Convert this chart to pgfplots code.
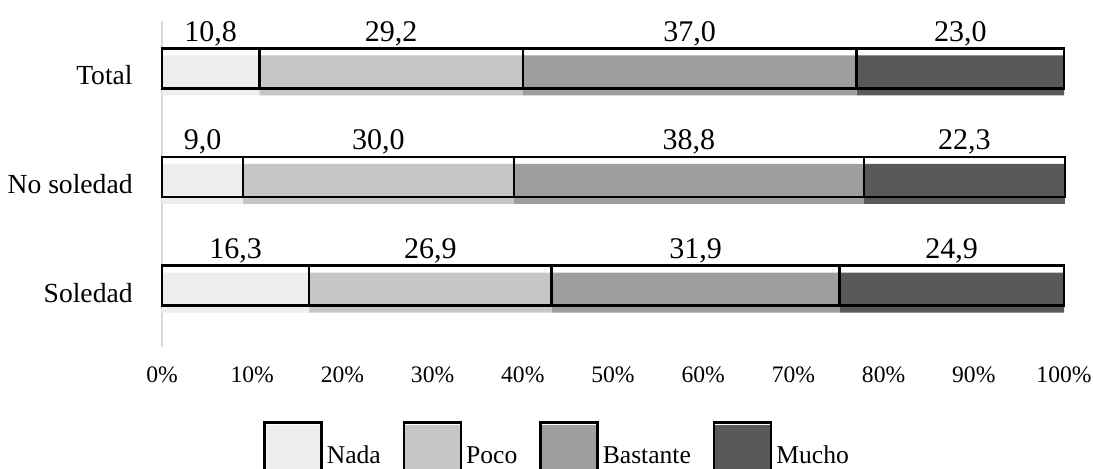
\documentclass[border=0pt]{standalone}
\usepackage{fontspec}
\setmainfont{Liberation Serif}
\usepackage{pgfplots}
\usepackage{pgfplotstable}
\pgfplotsset{compat=1.18}
\definecolor{cNada}{RGB}{237,237,237}
\definecolor{cPoco}{RGB}{198,198,198}
\definecolor{cBast}{RGB}{158,158,158}
\definecolor{cMucho}{RGB}{89,89,89}
\definecolor{axgray}{RGB}{217,217,217}

\pgfplotstableread{
y nada poco bastante mucho
0 16.3 26.9 31.9 24.9
1 9.0 30.0 38.8 22.3
2 10.8 29.2 37.0 23.0
}\datatable

\pgfplotstableread{
x y lab
5.4 2.313 10,8
25.4 2.313 29,2
58.5 2.313 37,0
88.5 2.313 23,0
4.5 1.313 9,0
24.0 1.313 30,0
58.4 1.313 38,8
88.95 1.313 22,3
8.15 0.313 16,3
29.75 0.313 26,9
59.15 0.313 31,9
87.55 0.313 24,9
}\labtable

\pgfplotsset{
  base/.style={scale only axis, width=451pt, height=163pt,
    xmin=0, xmax=100, ymin=-0.5, ymax=2.5,
    at={(0,0)}, anchor=south west, clip=false},
  legbox/.style={legend image code/.code={
    \fill[#1] (0pt,-12pt) rectangle (28.5pt,15.5pt);
    \draw[black, line width=1.2pt] (0pt,-12pt) rectangle (28.5pt,17pt);
  }},
}

\begin{document}
\begin{tikzpicture}
% fills
\begin{axis}[base, xbar stacked, bar width=20pt, bar shift=0pt,
  axis x line*=bottom, axis y line*=left,
  x axis line style={draw=none},
  y axis line style={draw=axgray, line width=1pt},
  major tick length=0pt,
  xtick={0,10,...,100},
  xticklabels={0\%,10\%,20\%,30\%,40\%,50\%,60\%,70\%,80\%,90\%,100\%},
  ytick={0,1,2},
  yticklabels={Soledad,No soledad,Total},
  xticklabel style={anchor=base, yshift=-18pt, font=\fontsize{11.8}{11.8}\selectfont},
  yticklabel style={anchor=east, inner sep=0pt, xshift=-14.5pt, font=\fontsize{13.8}{13.8}\selectfont},
]
\addplot[fill=cNada, draw=none] table[x=nada, y=y]{\datatable};
\addplot[fill=cPoco, draw=none] table[x=poco, y=y]{\datatable};
\addplot[fill=cBast, draw=none] table[x=bastante, y=y]{\datatable};
\addplot[fill=cMucho, draw=none] table[x=mucho, y=y]{\datatable};
\end{axis}
% outlines
\begin{axis}[base, hide axis, xbar stacked, bar width=20pt, bar shift=3.5pt]
\addplot[fill=none, draw=black, line width=1.2pt] table[x=nada, y=y]{\datatable};
\addplot[fill=none, draw=black, line width=1.2pt] table[x=poco, y=y]{\datatable};
\addplot[fill=none, draw=black, line width=1.2pt] table[x=bastante, y=y]{\datatable};
\addplot[fill=none, draw=black, line width=1.2pt] table[x=mucho, y=y]{\datatable};
\end{axis}
% labels and legend
\begin{axis}[base, hide axis,
  legend columns=4,
  legend style={at={(0,0)}, anchor=north west, xshift=50.5pt, yshift=-37pt,
    draw=none, fill=none, inner sep=0pt,
    font=\fontsize{12.8}{12.8}\selectfont,
    /tikz/every even column/.append style={column sep=9pt}},
]
\addplot[draw=none, mark=none, forget plot, nodes near coords, point meta=explicit symbolic,
  every node near coord/.append style={anchor=base, inner sep=0pt, text=black, font=\fontsize{15}{15}\selectfont}]
  table[x=x, y=y, meta=lab]{\labtable};
\addlegendimage{legbox=cNada}
\addlegendimage{legbox=cPoco}
\addlegendimage{legbox=cBast}
\addlegendimage{legbox=cMucho}
\legend{Nada,Poco,Bastante,Mucho}
\end{axis}
\pgfresetboundingbox
\path[use as bounding box] (-81pt,-61pt) rectangle (465.5pt,173.5pt);
\end{tikzpicture}
\end{document}
